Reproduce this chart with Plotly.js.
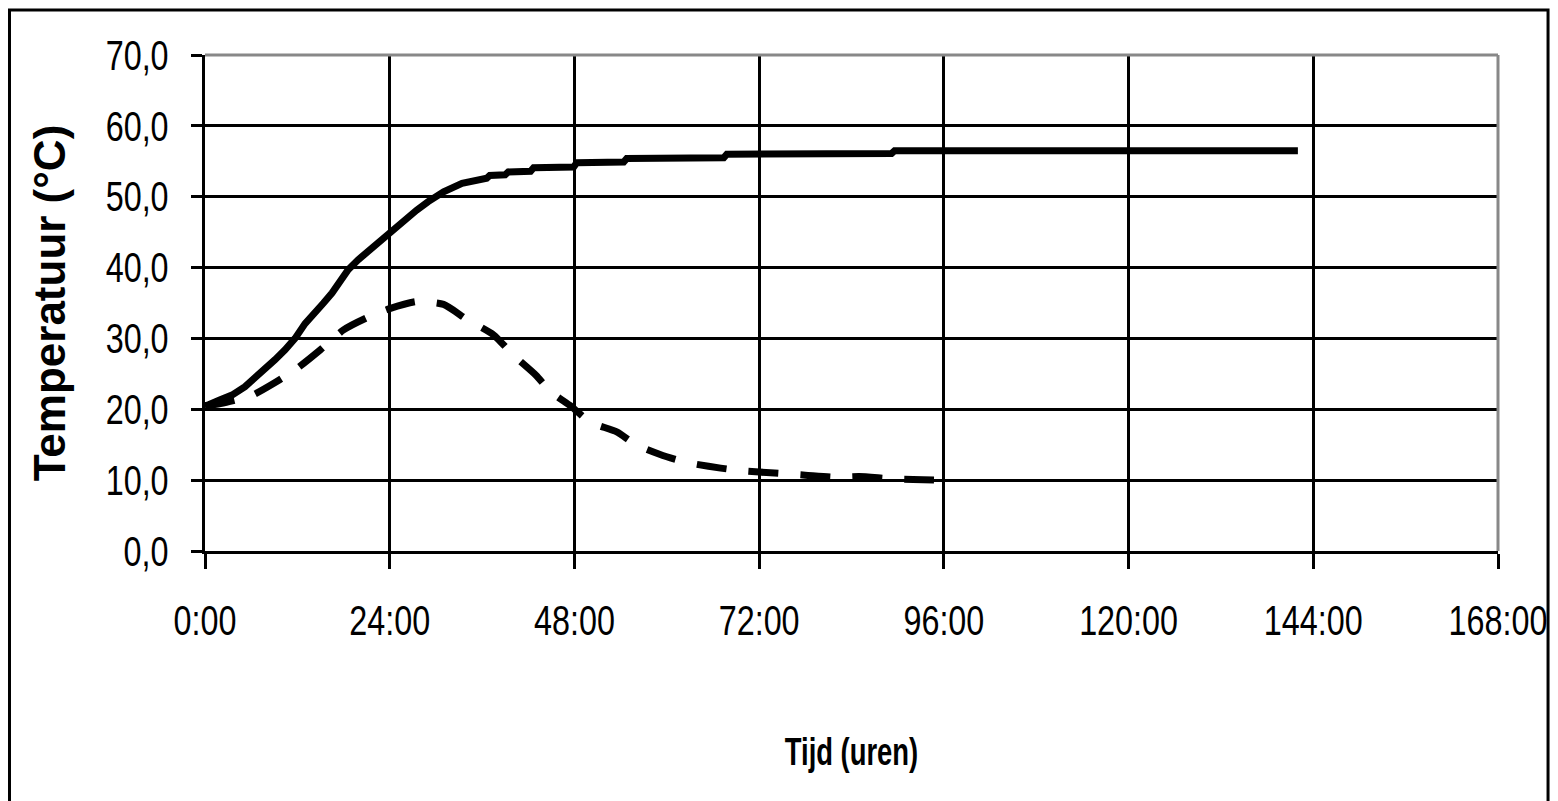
<!DOCTYPE html>
<html>
<head>
<meta charset="utf-8">
<script src="https://cdn.plot.ly/plotly-3.0.1.min.js"></script>
<style>
html,body{margin:0;padding:0;background:#fff;overflow:hidden;}
#chart{width:1558px;height:801px;}
</style>
</head>
<body>
<div id="chart"></div>
<script>
// Time in hours, temperature in °C
const solidHours = [0, 0.4, 1.9, 3.5, 5.2, 6.7, 8.0, 9.1, 10.4, 11.7, 13.0, 14.3, 15.4, 16.5, 17.5, 18.6, 19.9, 21.4, 23.0, 24.7, 26.0, 27.5, 29.0, 31.0, 33.4, 35.5, 36.6, 37.0, 39.0, 39.4, 42.3, 42.7, 47.9, 48.3, 54.4, 54.8, 67.4, 67.8, 89.2, 89.6, 142.0];
const solidTemp  = [20.5, 20.6, 21.3, 22.0, 23.2, 24.6, 25.8, 27.0, 28.4, 30.0, 32.1, 33.5, 35.0, 36.4, 38.2, 39.7, 41.1, 42.5, 44.1, 45.8, 47.0, 48.1, 49.3, 50.7, 51.9, 52.5, 52.6, 53.0, 53.1, 53.5, 53.6, 54.1, 54.2, 54.8, 54.9, 55.4, 55.5, 56.0, 56.1, 56.5, 56.5];

const dashHours = [0, 2, 6, 9, 12, 15, 18, 21, 24, 27.5, 31, 34, 37.5, 40, 43, 45, 47.6, 50, 53.5, 56, 60, 63, 67, 70, 74, 78, 82, 85, 89, 92, 96];
const dashTemp  = [20.5, 20.8, 21.9, 23.7, 25.8, 28.4, 31.2, 32.9, 34.2, 35.2, 34.8, 32.7, 30.5, 27.7, 24.8, 22.4, 20.4, 18.2, 16.8, 15.0, 13.3, 12.4, 11.7, 11.3, 11.0, 10.7, 10.4, 10.5, 10.2, 10.1, 10.0];

const xTickVals = [0, 24, 48, 72, 96, 120, 144, 168];
const xTickText = ["0:00", "24:00", "48:00", "72:00", "96:00", "120:00", "144:00", "168:00"];
const yTickVals = [0, 10, 20, 30, 40, 50, 60, 70];

const sans = '"Liberation Sans", Arial, sans-serif';

const traces = [
  {
    x: solidHours, y: solidTemp, type: 'scatter', mode: 'lines',
    line: {color: '#000', width: 7, shape: 'linear'},
    showlegend: false, hoverinfo: 'x+y'
  },
  {
    x: dashHours, y: dashTemp, type: 'scatter', mode: 'lines',
    line: {color: '#000', width: 7, dash: '30px,22px', shape: 'spline', smoothing: 0.6},
    showlegend: false, hoverinfo: 'x+y'
  }
];

const layout = {
  width: 1558, height: 801,
  margin: {l: 205, r: 60, t: 55, b: 250},
  paper_bgcolor: '#fff', plot_bgcolor: '#fff',
  separators: ', ',
  showlegend: false,
  xaxis: {
    range: [0, 168], tickvals: xTickVals, ticktext: xTickText,
    showgrid: true, gridcolor: '#000', gridwidth: 3,
    showline: true, linecolor: '#000', linewidth: 3,
    ticks: 'outside', ticklen: 15, tickwidth: 3, tickcolor: '#000',
    ticklabelstandoff: 16, ticklabeloverflow: 'allow',
    tickfont: {family: sans, size: 42, color: '#000'},
    zeroline: false, fixedrange: true,
    title: {text: 'Tijd (uren)', font: {family: sans, size: 38, color: '#000', weight: 'bold'}, standoff: 95}
  },
  yaxis: {
    range: [0, 70], tickvals: yTickVals, tickformat: '.1f',
    showgrid: true, gridcolor: '#000', gridwidth: 3,
    showline: true, linecolor: '#000', linewidth: 3,
    ticks: 'outside', ticklen: 11, tickwidth: 3, tickcolor: '#000',
    ticklabelstandoff: 14, ticklabeloverflow: 'allow',
    tickfont: {family: sans, size: 42, color: '#000'},
    zeroline: false, fixedrange: true,
    title: {text: 'Temperatuur (°C)', font: {family: sans, size: 44, color: '#000', weight: 'bold'}, standoff: 8}
  },
  shapes: [
    {type: 'line', xref: 'paper', yref: 'paper', x0: 0, x1: 1, y0: 1, y1: 1, line: {color: '#888', width: 3}, layer: 'above'},
    {type: 'line', xref: 'paper', yref: 'paper', x0: 1, x1: 1, y0: 0, y1: 1, line: {color: '#888', width: 3}, layer: 'above'},
    {type: 'rect', xref: 'paper', yref: 'paper', x0: -0.1512, x1: 1.0387, y0: -0.62, y1: 1.0907, line: {color: '#000', width: 3}, fillcolor: 'rgba(0,0,0,0)', layer: 'above'}
  ]
};

function condense(sel, factor) {
  document.querySelectorAll(sel).forEach(function (t) {
    const w = t.getComputedTextLength();
    if (w > 0) {
      t.setAttribute('textLength', (w * factor).toFixed(1));
      t.setAttribute('lengthAdjust', 'spacingAndGlyphs');
    }
  });
}

Plotly.newPlot('chart', traces, layout, {displayModeBar: false, staticPlot: true}).then(function () {
  condense('#chart .xtick text, #chart .ytick text', 0.77);
  condense('#chart .g-xtitle text', 0.72);
});
</script>
</body>
</html>
